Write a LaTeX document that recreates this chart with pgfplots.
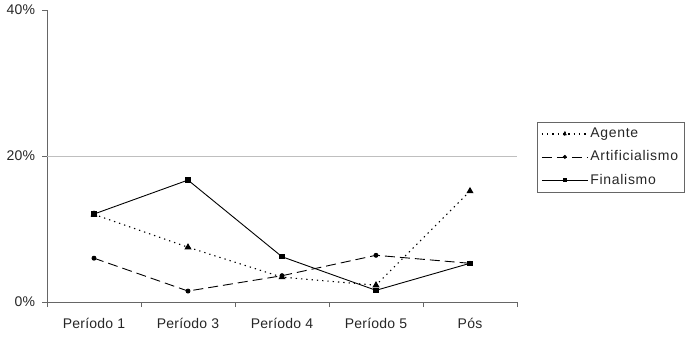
\documentclass[border=0pt]{standalone}
\usepackage{fontspec}
\setmainfont{Liberation Sans}
\newfontfamily\legfont[LetterSpace=5]{Liberation Sans}
\newfontfamily\tickfont[LetterSpace=1.5]{Liberation Sans}
\usepackage{pgfplots}
\pgfplotsset{compat=1.18}
\begin{document}
\fontsize{14bp}{16bp}\selectfont
\begin{tikzpicture}
\useasboundingbox (-47bp,-60bp) rectangle (643bp,302bp);
\begin{axis}[
  at={(0,0)}, anchor=south west,
  scale only axis, width=470bp, height=292bp,
  xmin=-0.5, xmax=4.5, ymin=0, ymax=40,
  axis x line=bottom, axis y line=left,
  axis line style={-, draw=gray!80!black, line width=0.8pt},
  xtick={0,1,2,3,4},
  xticklabels={Período 1,Período 3,Período 4,Período 5,Pós},
  major x tick style={draw=none},
  minor xtick={-0.5,0.5,1.5,2.5,3.5,4.5},
  minor tick length=5bp,
  minor x tick style={draw=gray!80!black, line width=0.8pt},
  tick align=outside,
  ytick={0,40}, extra y ticks={20},
  extra y tick style={ymajorgrids=true},
  major grid style={draw=gray!50, line width=0.6pt},
  major tick length=5bp,
  y tick style={draw=gray!80!black, line width=0.8pt},
  yticklabel={\pgfmathprintnumber{\tick}\%},
  /pgf/number format/assume math mode=true,
  ticklabel style={font=\fontsize{14bp}{16bp}\selectfont\tickfont, text=black!85},
  xticklabel style={yshift=-6bp},
  yticklabel style={xshift=-2bp},
  clip=false,
  legend style={at={(rel axis cs:1.0426,0.617)}, anchor=north west,
    draw=gray!80!black, line width=0.6pt, font=\fontsize{14bp}{16bp}\selectfont\legfont,
    inner xsep=4bp, inner ysep=4bp, row sep=7bp, text=black!85,
    cells={anchor=west}},
  legend cell align=left,
  legend image code/.code={\draw[mark repeat=2, mark phase=2, mark options={scale=0.75}] plot coordinates {(0bp,0bp)(23bp,0bp)(46bp,0bp)};},
]
\addplot[black, line width=1.1pt, dash pattern=on 1.3bp off 4bp, mark=triangle*, mark size=3bp, mark options={solid}]
  coordinates {(0,12.0) (1,7.5) (2,3.4) (3,2.3) (4,15.2)};
\addlegendentry{Agente}
\addplot[black, line width=0.9pt, dash pattern=on 10bp off 5bp, mark=*, mark size=2bp, mark options={solid}]
  coordinates {(0,6.0) (1,1.5) (2,3.6) (3,6.4) (4,5.3)};
\addlegendentry{Artificialismo}
\addplot[black, line width=0.9pt, mark=square*, mark size=2.2bp]
  coordinates {(0,12.05) (1,16.7) (2,6.2) (3,1.6) (4,5.3)};
\addlegendentry{Finalismo}
\end{axis}
\end{tikzpicture}
\end{document}
